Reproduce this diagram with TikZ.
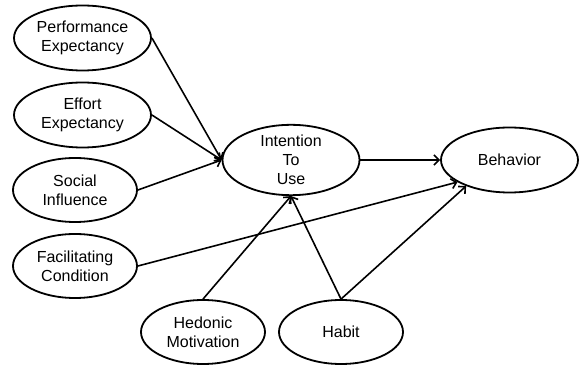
\documentclass[tikz,border=0pt]{standalone}
\usepackage{fontspec}
\setmainfont{Liberation Sans}
\usetikzlibrary{shapes.geometric,arrows.meta}

\begin{document}
\begin{tikzpicture}[x=1pt, y=-1pt,
	konstrukt/.style={ellipse, draw=black, line width=1.8pt, inner sep=0pt,
	align=center, font=\fontsize{16}{19}\selectfont},
	gross/.style={konstrukt, minimum width=137pt, minimum height=65pt},
	klein/.style={konstrukt, minimum width=124pt, minimum height=64pt},
	pfeil/.style={line width=1.6pt, -{Straight Barb[length=5pt,width=10pt]}}]
	\useasboundingbox (0,0) rectangle (579,366);
	% Einflussfaktoren links
	\node[gross] (perf) at (82.5,38) {Performance\\Expectancy};
	\node[gross] (eff) at (82.5,115) {Effort\\Expectancy};
	\node[klein] (soc) at (75,190) {Social\\Influence};
	\node[klein] (fac) at (75,266) {Facilitating\\Condition};
	% Einflussfaktoren unten
	\node[klein] (hed) at (203,332) {Hedonic\\Motivation};
	\node[klein] (hab) at (341,332) {Habit};
	% Absicht und Verhalten
	\node[gross] (itu) at (291,160) {Intention\\To\\Use};
	\node[gross] (beh) at (509.5,160) {Behavior};

	% Pfeile
	\draw[pfeil] (perf.east) -- (itu.west);
	\draw[pfeil] (eff.east) -- (itu.west);
	\draw[pfeil] (soc.east) -- (itu.west);
	\draw[pfeil] (fac.east) -- (beh.203);
	\draw[pfeil] (hed.north) -- (itu.south);
	\draw[pfeil] (hab.north) -- (itu.south);
	\draw[pfeil] (hab.north) -- (beh.211);
	\draw[pfeil] (itu.east) -- (beh.west);
\end{tikzpicture}
\end{document}
